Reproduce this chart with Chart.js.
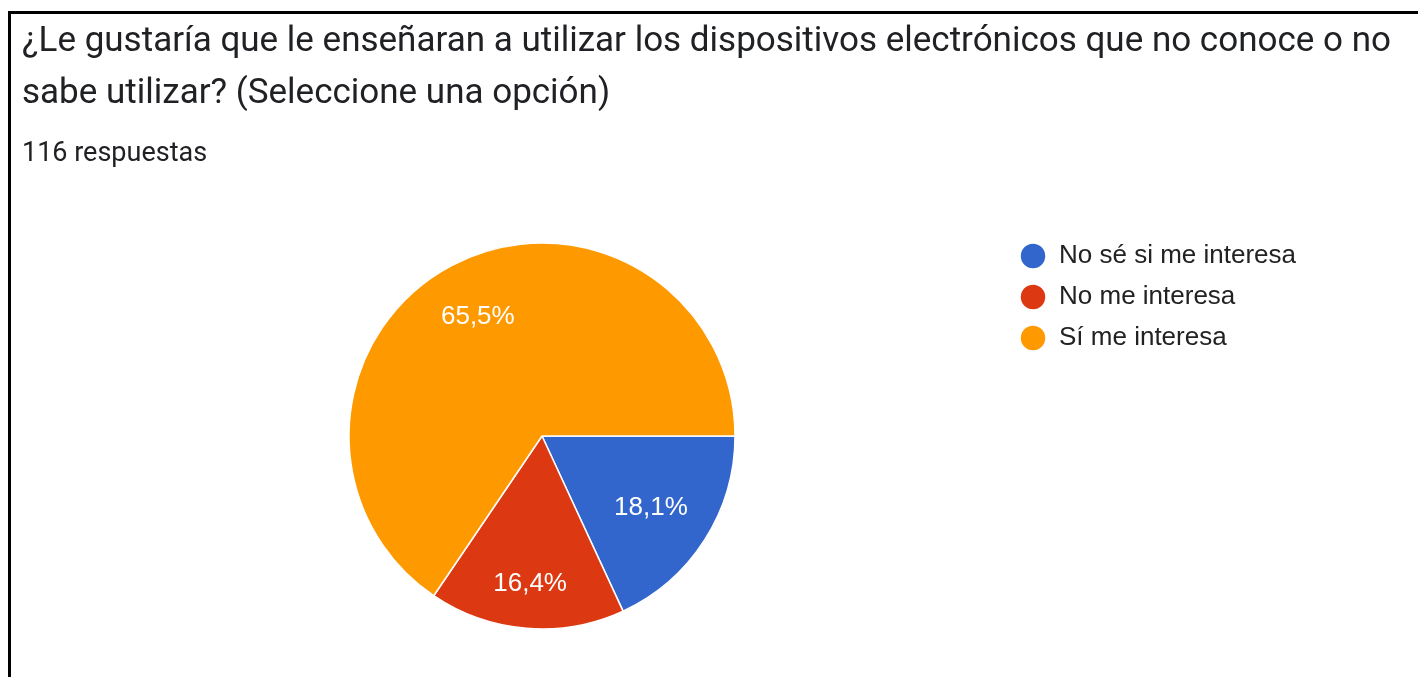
<!DOCTYPE html>
<html>
<head>
<meta charset="utf-8">
<script src="https://cdn.jsdelivr.net/npm/chart.js"></script>
<style>
  body { margin: 0; background: #fff; width: 1418px; height: 677px; overflow: hidden; position: relative; }
  #marco { position: absolute; left: 8px; top: 11px; width: 1500px; height: 800px; border-left: 3px solid #000; border-top: 3px solid #000; }
  #grafico { position: absolute; left: 0; top: 0; }
  .titulo { position: absolute; left: 22px; top: 14px; font-family: Roboto, sans-serif; font-size: 35px; line-height: 52px; color: #202124; white-space: nowrap; }
  .sub { position: absolute; left: 22px; top: 136px; font-family: Roboto, sans-serif; font-size: 27px; line-height: 32px; color: #202124; }
</style>
</head>
<body>
<div id="marco"></div>
<canvas id="grafico" width="1418" height="677"></canvas>
<div class="titulo">¿Le gustaría que le enseñaran a utilizar los dispositivos electrónicos que no conoce o no<br>sabe utilizar? (Seleccione una opción)</div>
<div class="sub">116 respuestas</div>
<script>
const opciones = ['No sé si me interesa', 'No me interesa', 'Sí me interesa']
const respuestas = [21, 19, 76]
const colores = ['#3366cc', '#dc3912', '#ff9900']
// how far out each percentage sits, as a share of the radius
const distEtiqueta = [0.67, 0.76, 0.71]

const etiquetas = {
    id: 'etiquetas',
    afterDatasetsDraw(chart) {
        const ctx = chart.ctx
        const total = respuestas.reduce((a, b) => a + b, 0)
        chart.getDatasetMeta(0).data.forEach((arc, i) => {
            const p = arc.getProps(['x', 'y', 'startAngle', 'endAngle', 'outerRadius'], true)
            const mid = (p.startAngle + p.endAngle) / 2
            const r = p.outerRadius * distEtiqueta[i]
            const texto = (respuestas[i] / total * 100).toFixed(1).replace('.', ',') + '%'
            ctx.save()
            ctx.fillStyle = '#ffffff'
            ctx.font = '26px "Liberation Sans", Arial, sans-serif'
            ctx.textAlign = 'center'
            ctx.textBaseline = 'alphabetic'
            ctx.fillText(texto, p.x + Math.cos(mid) * r, p.y + Math.sin(mid) * r + 9)
            ctx.restore()
        })
    }
}

new Chart(document.getElementById('grafico'), {
    type: 'pie',
    data: {
        labels: opciones,
        datasets: [{
            data: respuestas,
            backgroundColor: colores,
            borderColor: '#ffffff',
            borderWidth: 1.5,
            hoverOffset: 0,
            radius: 193
        }]
    },
    options: {
        responsive: false,
        animation: false,
        rotation: 90,
        layout: { padding: { top: 228, bottom: 33, left: 79, right: 112 } },
        plugins: {
            tooltip: { enabled: false },
            legend: {
                position: 'right',
                align: 'start',
                labels: {
                    usePointStyle: true,
                    pointStyle: 'circle',
                    pointStyleWidth: 26,
                    boxHeight: 18.4,
                    padding: 15,
                    color: '#222222',
                    font: { size: 26, family: '"Liberation Sans", Arial, sans-serif' }
                }
            }
        }
    },
    plugins: [etiquetas]
})
</script>
</body>
</html>
